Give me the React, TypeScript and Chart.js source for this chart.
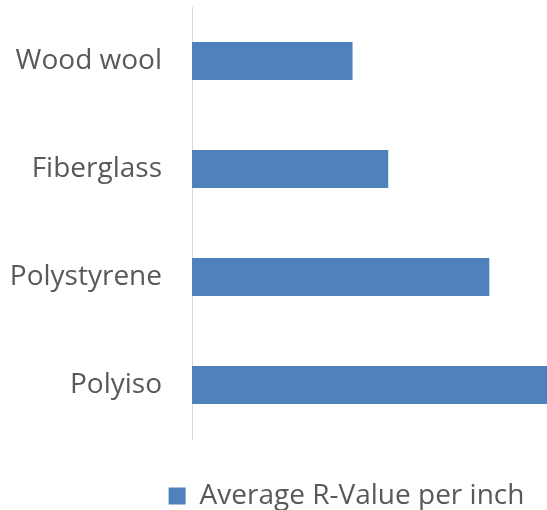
import React, { useEffect, useRef } from "react";
import { Chart, registerables } from "chart.js";

Chart.register(...registerables);

const categories = ["Wood wool", "Fiberglass", "Polystyrene", "Polyiso"];
const seriesName = "Average R-Value per inch";
const rValues = [2.7, 3.3, 5.0, 6.0];

// The reference image is a crop of a wider chart: the legend sits right of centre.
const legendShift = { x: 73, y: 10 };

const shiftLegend = {
  id: "shiftLegend",
  afterLayout(chart: any) {
    const lg = chart.legend;
    if (!lg) return;
    lg.left += legendShift.x;
    lg.right += legendShift.x;
    lg.top += legendShift.y;
    lg.bottom += legendShift.y;
  },
};

export default function App() {
  const ref = useRef<HTMLCanvasElement>(null);
  useEffect(() => {
    document.body.style.margin = "0";
    const canvas = ref.current;
    if (!canvas) return;
    const chart = new Chart(canvas, {
      type: "bar",
      data: {
        labels: categories,
        datasets: [
          {
            label: seriesName,
            data: rValues,
            backgroundColor: "#4f81bd",
            borderWidth: 0,
            categoryPercentage: 1,
            barPercentage: 0.352,
            clip: false as any,
          },
        ],
      },
      options: {
        indexAxis: "y",
        responsive: false,
        animation: false,
        layout: { padding: { top: 7, left: 0, right: 0, bottom: 0 } },
        scales: {
          x: {
            min: 0,
            max: 5.97,
            display: true,
            ticks: { display: false },
            grid: { display: false, drawTicks: false },
            border: { display: false },
            afterFit: (s: any) => {
              s.height = 33;
            },
          },
          y: {
            ticks: {
              color: "#595959",
              padding: 0,
              font: { family: "Open Sans", size: 28, lineHeight: 0.4 },
            },
            grid: {
              drawOnChartArea: false,
              drawTicks: true,
              tickLength: 30,
              color: "rgba(0,0,0,0)",
            },
            border: { display: true, color: "#d9d9d9", width: 1 },
            afterFit: (s: any) => {
              s.width = 192;
            },
          },
        },
        plugins: {
          legend: {
            position: "bottom",
            labels: {
              color: "#595959",
              boxWidth: 17,
              boxHeight: 17,
              padding: 0,
              font: { family: "Open Sans", size: 28 },
            },
          },
          tooltip: { enabled: false },
        },
      },
      plugins: [shiftLegend],
    });
    return () => chart.destroy();
  }, []);
  return <canvas ref={ref} width={547} height={510} style={{ display: "block" }} />;
}
